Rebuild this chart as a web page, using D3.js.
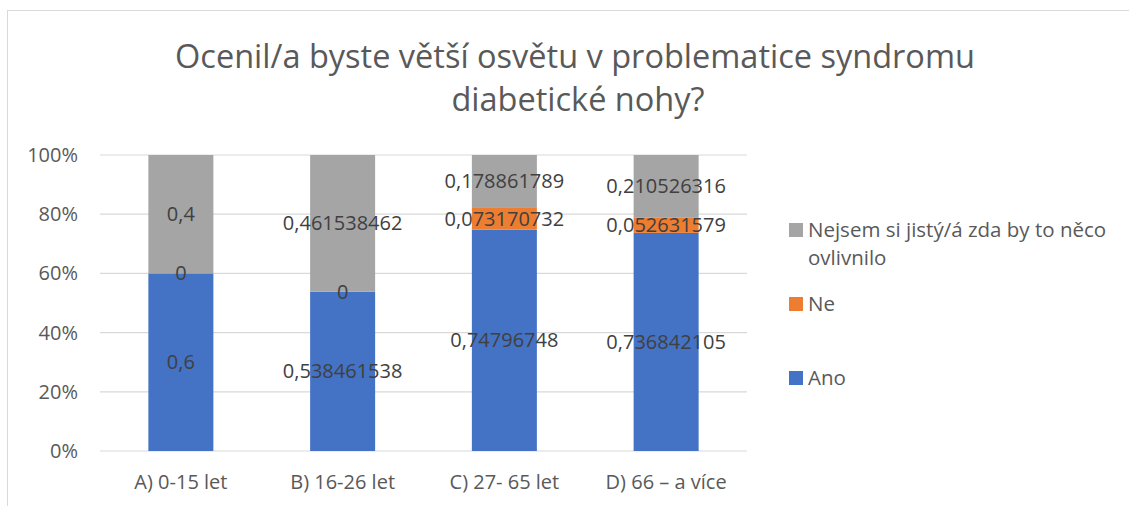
<!DOCTYPE html>
<html><head><meta charset="utf-8">
<script src="https://cdn.jsdelivr.net/npm/d3@7"></script>
<style>body{margin:0;background:#fff;} svg{display:block;font-family:"Open Sans",Calibri,sans-serif;}</style>
</head><body>
<svg id="c" width="1129" height="506"></svg>
<script>
const categories = ["A) 0-15 let","B) 16-26 let","C) 27- 65 let","D) 66 – a více"];
const ano = [0.6, 0.538461538, 0.74796748, 0.736842105];
const ne = [0, 0, 0.073170732, 0.052631579];
const nejsem = [0.4, 0.461538462, 0.178861789, 0.210526316];
const seriesNames = ["Ano","Ne","Nejsem si jistý/á zda by to něco ovlivnilo"];
const colors = ["#4472C4","#ED7D31","#A5A5A5"];
const yTicks = [0,0.2,0.4,0.6,0.8,1];
const titleLines = ["Ocenil/a byste větší osvětu v problematice syndromu","diabetické nohy?"];

(function(){
const svg = d3.select("#c");
svg.append("rect").attr("x",7.5).attr("y",10.5).attr("width",1140).attr("height",520)
  .attr("fill","#fff").attr("stroke","#D9D9D9");

const pL=100,pR=747,pT=155,pB=451;
const x = d3.scaleBand().domain(categories).range([pL,pR]).paddingInner(0.6).paddingOuter(0.3);
const y = d3.scaleLinear().domain([0,1]).range([pB,pT]);

svg.append("g").selectAll("line").data(yTicks).join("line")
  .attr("x1",pL).attr("x2",pR).attr("y1",d=>y(d)).attr("y2",d=>y(d))
  .attr("stroke","#D9D9D9").attr("stroke-width",1.2);
svg.append("g").selectAll("text").data(yTicks).join("text")
  .attr("x",78).attr("y",d=>y(d)).attr("dy","0.35em").attr("text-anchor","end")
  .attr("font-size",20).attr("fill","#595959").text(d=>d3.format(".0%")(d));

const rows = categories.map((c,i)=>({cat:c, Ano:ano[i], Ne:ne[i], N:nejsem[i]}));
const stack = d3.stack().keys(["Ano","Ne","N"])(rows);
const bw = 65;
stack.forEach((s,si)=>{
  svg.append("g").selectAll("rect").data(s).join("rect")
    .attr("x",d=>x(d.data.cat)+x.bandwidth()/2-bw/2).attr("width",bw)
    .attr("y",d=>y(d[1])).attr("height",d=>y(d[0])-y(d[1]))
    .attr("fill",colors[si]);
});
stack.forEach((s,si)=>{
  svg.append("g").selectAll("text").data(s).join("text")
    .attr("x",d=>x(d.data.cat)+x.bandwidth()/2)
    .attr("y",d=>y((d[0]+d[1])/2)).attr("dy","0.35em").attr("text-anchor","middle")
    .attr("font-size",20).attr("fill","#404040")
    .text(d=>String(+(d[1]-d[0]).toFixed(9)).replace(".",","));
});
svg.append("g").selectAll("text").data(categories).join("text")
  .attr("x",d=>x(d)+x.bandwidth()/2).attr("y",482).attr("dy","0.35em").attr("text-anchor","middle")
  .attr("font-size",20).attr("fill","#595959").text(d=>d);

svg.append("g").selectAll("text").data(titleLines).join("text")
  .attr("x",(d,i)=>i===0?575:578).attr("y",(d,i)=>57+i*43).attr("dy","0.35em").attr("text-anchor","middle")
  .attr("font-size",32.5).attr("fill","#595959").text(d=>d);

const legend = [
  {c:colors[2], lines:["Nejsem si jistý/á zda by to něco","ovlivnilo"], y:230},
  {c:colors[1], lines:["Ne"], y:304},
  {c:colors[0], lines:["Ano"], y:378}
];
const lg = svg.append("g");
legend.forEach(l=>{
  lg.append("rect").attr("x",789).attr("y",l.y-7).attr("width",14).attr("height",14).attr("fill",l.c);
  l.lines.forEach((t,i)=>lg.append("text").attr("x",808).attr("y",l.y+i*28).attr("dy","0.35em")
    .attr("font-size",20.5).attr("fill","#595959").text(t));
});
})();
</script>
</body></html>
